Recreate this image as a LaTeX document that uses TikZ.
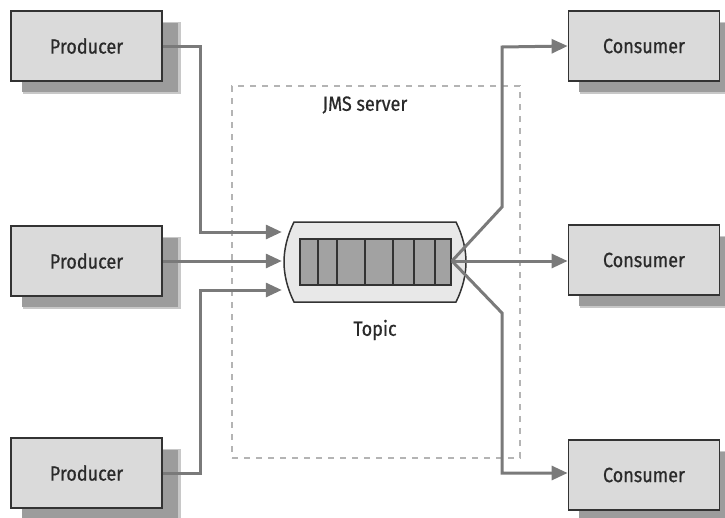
\documentclass[tikz,border=0pt]{standalone}
\usepackage{fontspec}
\setmainfont[FakeStretch=0.88,FakeBold=0.6]{Fira Sans}
\usetikzlibrary{arrows.meta,calc}
\definecolor{boxfill}{HTML}{DADADA}
\definecolor{boxline}{HTML}{333333}
\definecolor{shadowgray}{HTML}{9C9C9C}
\definecolor{flowgray}{HTML}{7A7A7A}
\definecolor{dashgray}{HTML}{B4B4B4}
\definecolor{cellfill}{HTML}{A2A2A2}
\definecolor{topicfill}{HTML}{E8E8E8}
\definecolor{textgray}{HTML}{2A2A2A}
\tikzset{
  actor/.style={draw=boxline, line width=1.8pt, fill=boxfill,
    minimum width=151pt, minimum height=70pt, inner sep=0pt,
    font=\fontsize{20.5}{24}\selectfont, text=textgray},
  flow/.style={draw=flowgray, line width=3pt,
    -{Triangle[length=16pt,width=14pt]}},
  lbl/.style={font=\fontsize{20.5}{24}\selectfont, text=textgray, inner sep=0pt}
}
\newcommand{\actorbox}[3]{%
  \fill[shadowgray!55] ($(#2)+(-64,-24)$) rectangle ($(#2)+(94,48)$);
  \fill[shadowgray] ($(#2)+(-65,-23)$) rectangle ($(#2)+(91,46)$);
  \node[actor] (#1) at (#2) {#3};}
\begin{document}
\begin{tikzpicture}[x=1pt,y=-1pt]
\useasboundingbox (0,0) rectangle (725,517);

% server boundary
\node[draw=dashgray, line width=2pt, dash pattern=on 6pt off 6pt,
  minimum width=288pt, minimum height=372pt, inner sep=0pt] (server) at (376,272) {};
\node[lbl] (serverlbl) at (365,105) {JMS server};

% producers and consumers
\actorbox{p1}{86.5,46}{Producer}
\actorbox{p2}{86.5,261}{Producer}
\actorbox{p3}{86.5,473}{Producer}
\actorbox{c1}{644,46}{Consumer}
\actorbox{c2}{644,260}{Consumer}
\actorbox{c3}{644,475}{Consumer}

% topic
\node[minimum width=180pt, minimum height=80pt, inner sep=0pt] (topic) at (375,262) {};
\filldraw[fill=topicfill, draw=boxline, line width=1.5pt]
  (294,222) -- (456,222) .. controls (463,236) and (466,250) .. (466,262)
  .. controls (466,274) and (463,288) .. (456,302) -- (294,302)
  .. controls (287,288) and (284,274) .. (284,262)
  .. controls (284,250) and (287,236) .. (294,222) -- cycle;
\filldraw[fill=cellfill, draw=boxline, line width=1.5pt] (300,239) rectangle (451,285);
\foreach \cx in {318,337,365,393,414,435}
  \draw[boxline, line width=1.5pt] (\cx,239) -- (\cx,285);
\coordinate (tail) at (452,261);
\node[lbl] (topiclbl) at (375,330) {Topic};

% producer flows
\draw[flow] (p1.east) -- (200,46) -- (200,232) -- ($(topic.west)+(-3,-30)$);
\draw[flow] (p2.east) -- ($(topic.west)+(-3,-1)$);
\draw[flow] (p3.east) -- (200,473) -- (200,290) -- ($(topic.west)+(-3,28)$);

% consumer flows
\draw[flow] (tail) -- (502,207) -- (502,47) -- (c1.west);
\draw[flow] (tail) -- (c2.west |- tail);
\draw[flow] (tail) -- (502,313) -- (502,473) -- (c3.west |- 0,473);
\end{tikzpicture}
\end{document}
